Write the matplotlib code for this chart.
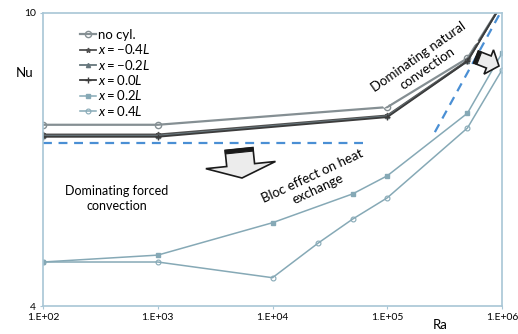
import matplotlib
matplotlib.use('Agg')
import matplotlib.pyplot as plt
from matplotlib.patches import Polygon
import numpy as np

plt.rcParams['font.family'] = ['Lato', 'DejaVu Sans']
plt.rcParams['mathtext.fontset'] = 'custom'
plt.rcParams['mathtext.rm'] = 'Lato'
plt.rcParams['mathtext.it'] = 'Lato:italic'

# data
ra_top = [1e2, 1e3, 1e5, 5e5, 1e6]
nu_nocyl = [7.05, 7.05, 7.45, 8.68, 10.3]
nu_m04 = [6.84, 6.84, 7.26, 8.62, 10.3]
nu_m02 = [6.81, 6.81, 7.24, 8.60, 10.3]
nu_p00 = [6.79, 6.79, 7.22, 8.60, 10.3]

ra_p02 = [1e2, 1e3, 1e4, 5e4, 1e5, 5e5, 1e6]
nu_p02 = [4.59, 4.69, 5.19, 5.68, 6.01, 7.31, 8.82]
ra_p04 = [1e2, 1e3, 1e4, 2.5e4, 5e4, 1e5, 5e5, 1e6]
nu_p04 = [4.59, 4.59, 4.37, 4.87, 5.25, 5.61, 6.98, 8.37]

ra_forced = [1e2, 6.4e4]
nu_forced = [6.66, 6.66]
ra_natural = [2.6e5, 1e6]
nu_natural = [6.89, 10.1]

xticks = [1e2, 1e3, 1e4, 1e5, 1e6]
xlabels = ['1.E+02', '1.E+03', '1.E+04', '1.E+05', '1.E+06']

W, H = 518, 334
fig = plt.figure(figsize=(W / 100, H / 100), dpi=100)
ax = fig.add_axes([43 / W, 1 - 306 / H, 459 / W, 293 / H])

spine_c = '#a8c6d6'
ax.plot(ra_forced, nu_forced, color='#4a8fd4', lw=1.6, dashes=(4, 3))
ax.plot(ra_natural, nu_natural, color='#4a8fd4', lw=1.6, dashes=(4, 3))

ax.plot(ra_top, nu_nocyl, color='#858f93', lw=1.6, marker='o', ms=4.5, mfc='none', mew=1, label='no cyl.')
ax.plot(ra_top, nu_m04, color='#505050', lw=1.3, marker='*', ms=3.5, label=r'$x = -0.4L$')
ax.plot(ra_top, nu_m02, color='#66767c', lw=1.3, marker='^', ms=3, label=r'$x = -0.2L$')
ax.plot(ra_top, nu_p00, color='#3c3c3c', lw=1.3, marker='+', ms=4, label=r'$x = 0.0L$')
ax.plot(ra_p02, nu_p02, color='#86a9b6', lw=1.1, marker='s', ms=2.2, label=r'$x = 0.2L$')
ax.plot(ra_p04, nu_p04, color='#86a9b6', lw=1.1, marker='o', ms=3.5, mfc='none', mew=0.8, label=r'$x = 0.4L$')

ax.set_xscale('log')
ax.set_yscale('log')
ax.set_xlim(1e2, 1e6)
ax.set_ylim(4, 10)
ax.set_xticks(xticks)
ax.set_xticklabels(xlabels)
ax.minorticks_off()
ax.set_yticks([4, 10])
ax.set_yticklabels(['4', '10'])
ax.tick_params(length=2, color=spine_c, labelsize=7.5, pad=3)
for s in ax.spines.values():
    s.set_color(spine_c)
    s.set_linewidth(1.2)

ax.set_xlabel('Ra', fontsize=9.5)
ax.xaxis.set_label_coords(0.865, -0.045)
ax.set_ylabel('Nu', fontsize=9.5, rotation=0, va='center')
ax.yaxis.set_label_coords(-0.041, 0.795)

ax.legend(loc='upper left', bbox_to_anchor=((80 - 43) / 459, (306 - 29) / 293),
          frameon=False, fontsize=9.5, labelspacing=0.1, handlelength=1.2,
          handletextpad=0.2, borderaxespad=0, borderpad=0)

box = dict(facecolor='white', edgecolor='none', pad=1)
ax.text(442, 5.59, 'Dominating forced\nconvection', fontsize=9, ha='center', va='center',
        linespacing=1.3)
ax.text(2.05e5, 8.55, 'Dominating natural\nconvection', fontsize=9.5, ha='center', va='center',
        rotation=35, rotation_mode='anchor', linespacing=1.2, bbox=box)
ax.text(2.35e4, 5.88, 'Bloc effect on heat\nexchange', fontsize=9.5, ha='center', va='center',
        rotation=25, rotation_mode='anchor', linespacing=1.2, bbox=box)


def block_arrow(tail, tip, shaft_w, head_w, head_l):
    # polygon in image pixels (origin top-left), returned in figure fraction
    t = np.array(tail, float)
    p = np.array(tip, float)
    d = (p - t) / np.linalg.norm(p - t)
    n = np.array([-d[1], d[0]])
    b = p - d * head_l
    pts = [t + n * shaft_w / 2, b + n * shaft_w / 2, b + n * head_w / 2, p,
           b - n * head_w / 2, b - n * shaft_w / 2, t - n * shaft_w / 2]
    return [(x / W, 1 - y / H) for x, y in pts], (t + n * shaft_w / 2, t - n * shaft_w / 2, d)


for tail, tip, sw, hw, hl in [((239, 149), (242, 178), 28, 70, 13),
                             ((476, 57), (499, 66), 13, 26, 11)]:
    pts, (a, b, d) = block_arrow(tail, tip, sw, hw, hl)
    fig.patches.append(Polygon(pts, closed=True, transform=fig.transFigure,
                               facecolor='#ececec', edgecolor='#1a1a1a', lw=1.2, zorder=5))
    band = [a, b, b + d * 3.5, a + d * 3.5]
    fig.patches.append(Polygon([(x / W, 1 - y / H) for x, y in band], closed=True,
                               transform=fig.transFigure, facecolor='#1a1a1a',
                               edgecolor='#1a1a1a', lw=0.8, zorder=6))

fig.savefig('out.png', dpi=100)
